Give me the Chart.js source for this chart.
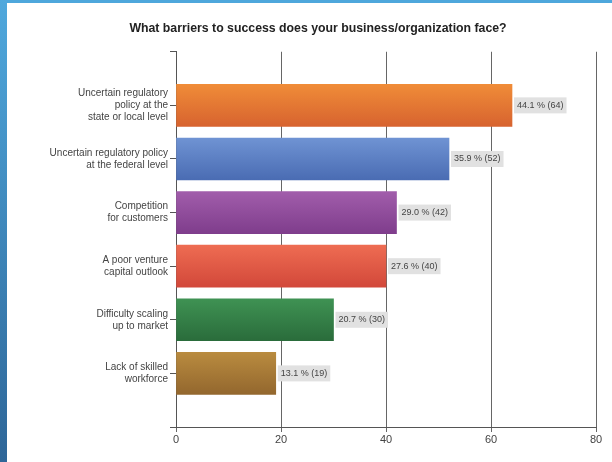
<!DOCTYPE html>
<html>
<head>
<meta charset="utf-8">
<script src="https://cdn.jsdelivr.net/npm/chart.js@4/dist/chart.umd.min.js"></script>
<style>
    html, body { margin: 0; padding: 0; background: #fff; }
    body { width: 612px; height: 462px; position: relative; overflow: hidden; }
    #topBar { position: absolute; left: 0; top: 0; width: 612px; height: 3px; background: #4ea7dc; }
    #sideBar { position: absolute; left: 0; top: 0; width: 7px; height: 462px; background: linear-gradient(#4fa8dd, #2e6698); }
    #wrap { position: absolute; left: 40px; top: 3px; width: 572px; height: 459px; }
</style>
</head>
<body>
<div id="topBar"></div>
<div id="sideBar"></div>
<div id="wrap"><canvas id="barrierChart" width="572" height="459"></canvas></div>
<script>
const categories = [
    ["Uncertain regulatory", "policy at the", "state or local level"],
    ["Uncertain regulatory policy", "at the federal level"],
    ["Competition", "for customers"],
    ["A poor venture", "capital outlook"],
    ["Difficulty scaling", "up to market"],
    ["Lack of skilled", "workforce"]
];
const responses = [64, 52, 42, 40, 30, 19];
const percents = [44.1, 35.9, 29.0, 27.6, 20.7, 13.1];
const xTicks = [0, 20, 40, 60, 80];
const barTops = ["#f08c38", "#6f93d3", "#a15dab", "#ee6c52", "#3f9253", "#b98b3f"];
const barBottoms = ["#d7632f", "#4a6cb3", "#7f3d8c", "#d2483a", "#2a6c3b", "#93672e"];

const FONT = "'Liberation Sans', Arial, sans-serif";

// empty slot above and below the bars
const labels = ["", ...categories, ""];
const values = [null, ...responses, null];

function barFill(context) {
    const i = context.dataIndex - 1;
    if (i < 0 || i >= responses.length) return "transparent";
    const chart = context.chart;
    const yScale = chart.scales.y;
    if (!chart.chartArea || !yScale) return barTops[i];
    const mid = yScale.getPixelForValue(context.dataIndex);
    const g = chart.ctx.createLinearGradient(0, mid - 21, 0, mid + 21);
    g.addColorStop(0, barTops[i]);
    g.addColorStop(1, barBottoms[i]);
    return g;
}

// "44.1 % (64)" tags at the end of each bar
const valueLabels = {
    id: "valueLabels",
    afterDatasetsDraw(chart) {
        const ctx = chart.ctx;
        const meta = chart.getDatasetMeta(0);
        ctx.save();
        ctx.font = "9px " + FONT;
        ctx.textBaseline = "middle";
        meta.data.forEach((bar, index) => {
            const i = index - 1;
            if (i < 0 || i >= responses.length) return;
            const text = percents[i].toFixed(1) + " % (" + responses[i] + ")";
            const w = ctx.measureText(text).width;
            const x = bar.x + 2;
            ctx.fillStyle = "#e1e1e1";
            ctx.fillRect(x, bar.y - 8, w + 6, 16);
            ctx.fillStyle = "#444";
            ctx.fillText(text, x + 3, bar.y);
        });
        ctx.restore();
    }
};

let barrierChart = null;

function drawBarrierChart() {

    const ctx = document
        .getElementById("barrierChart")
        .getContext("2d");

    if (barrierChart)
        barrierChart.destroy();

    barrierChart = new Chart(ctx, {

        type: "bar",

        data: {
            labels,
            datasets: [
                {
                    data: values,
                    backgroundColor: barFill,
                    borderWidth: 0,
                    barThickness: 42
                }
            ]
        },

        plugins: [valueLabels],

        options: {

            indexAxis: "y",
            responsive: false,
            animation: false,

            layout: {
                padding: { left: 0, right: 16, top: 0, bottom: 13 }
            },

            plugins: {
                legend: { display: false },
                tooltip: { enabled: false },
                title: {
                    display: true,
                    text: "What barriers to success does your business/organization face?",
                    color: "#222",
                    font: { family: FONT, size: 12.3, weight: "bold" },
                    padding: { top: 18, bottom: 16 }
                }
            },

            scales: {

                x: {
                    min: 0,
                    max: 80,
                    afterBuildTicks: scale => {
                        scale.ticks = xTicks.map(v => ({ value: v }));
                    },
                    afterFit: scale => {
                        scale.height = 22;
                    },
                    grid: { color: "#666", tickLength: 5 },
                    border: { color: "#555" },
                    ticks: {
                        color: "#444",
                        padding: 1,
                        font: { family: FONT, size: 11 }
                    }
                },

                y: {
                    offset: false,
                    afterFit: scale => {
                        scale.width = 136;
                    },
                    grid: {
                        offset: false,
                        drawOnChartArea: false,
                        color: "#555",
                        tickLength: 6
                    },
                    border: { color: "#555" },
                    ticks: {
                        autoSkip: false,
                        color: "#444",
                        padding: 2,
                        font: { family: FONT, size: 10 }
                    }
                }

            }

        }

    });

}

drawBarrierChart();
</script>
</body>
</html>
